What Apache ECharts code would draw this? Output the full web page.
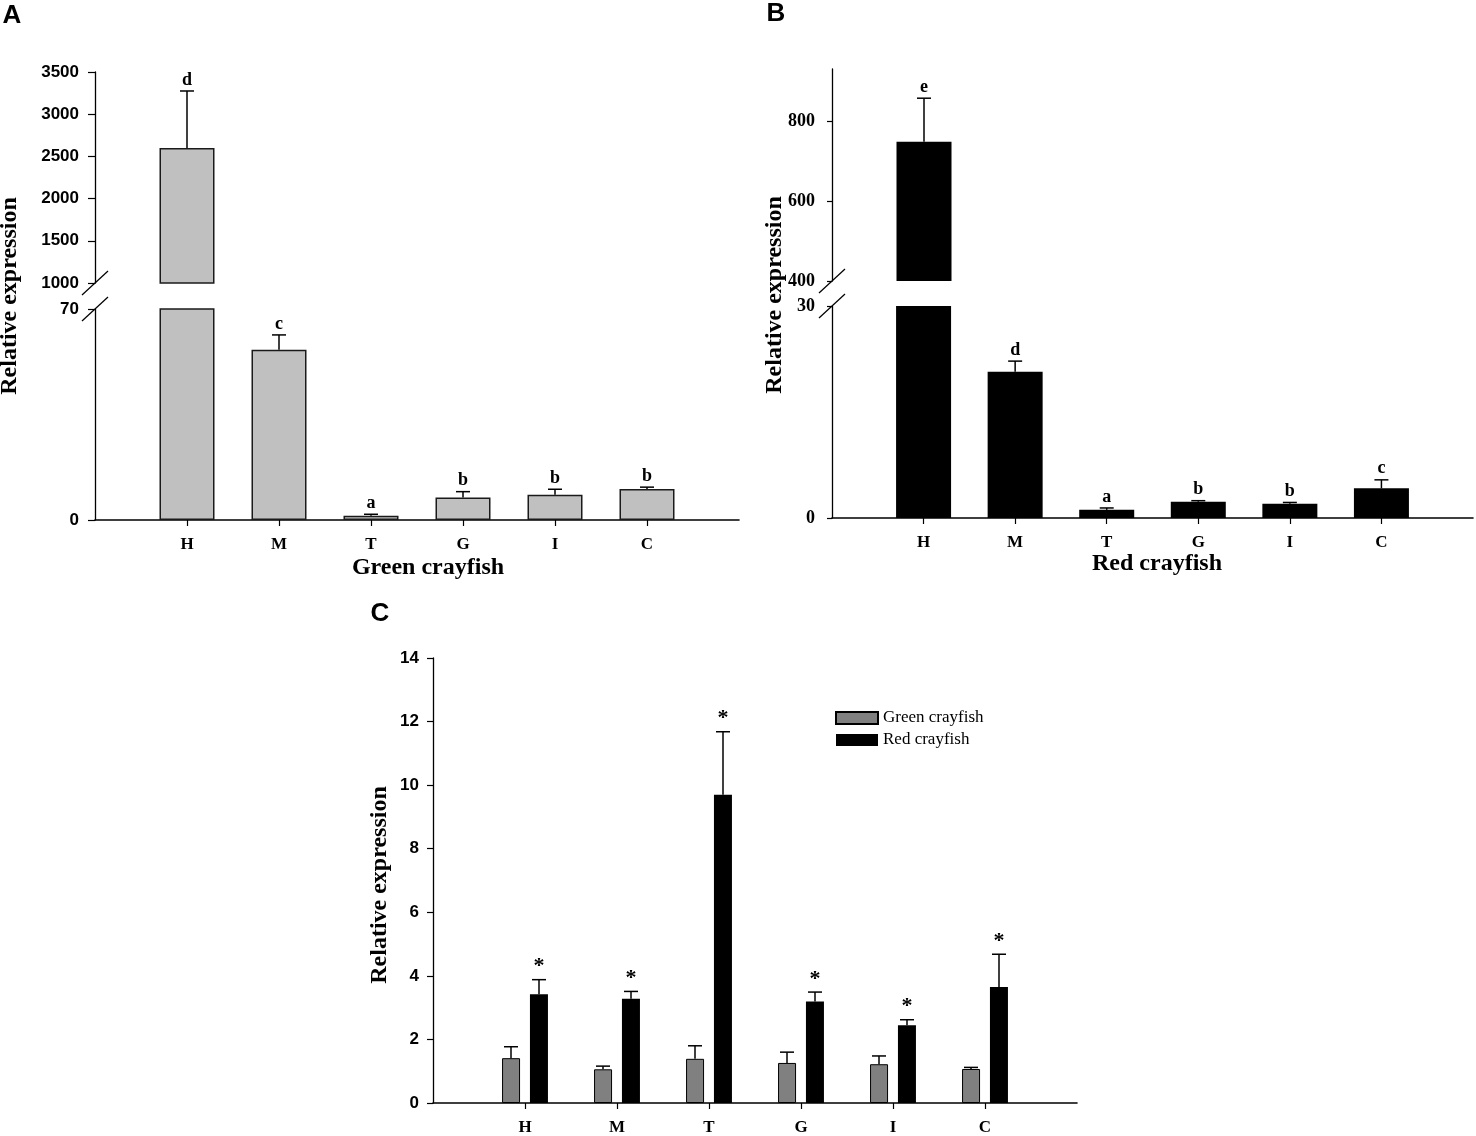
<!DOCTYPE html>
<html>
<head>
<meta charset="utf-8">
<script src="https://cdn.jsdelivr.net/npm/echarts@6/dist/echarts.min.js"></script>
<style>
html, body { margin: 0; padding: 0; background: #fff; }
#main { width: 1476px; height: 1136px; }
</style>
</head>
<body>
<div id="main"></div>
<script>
var tissues = ['H', 'M', 'T', 'G', 'I', 'C'];

// A: green crayfish (mean, top of error bar, letters)
var greenMean = [2600, 56.5, 1.4, 7.5, 8.4, 10.3];
var greenTop = [3275, 61.4, 1.9, 9.4, 10.2, 10.9];
var greenLetters = ['d', 'c', 'a', 'b', 'b', 'b'];

// B: red crayfish
var redMean = [748, 20.7, 1.15, 2.3, 2.0, 4.2];
var redTop = [857, 22.2, 1.42, 2.45, 2.2, 5.4];
var redLetters = ['e', 'd', 'a', 'b', 'b', 'c'];

// C: both, same tissues
var cmpGreenMean = [1.41, 1.06, 1.39, 1.26, 1.22, 1.07];
var cmpGreenTop = [1.77, 1.16, 1.80, 1.60, 1.48, 1.12];
var cmpRedMean = [3.42, 3.28, 9.70, 3.19, 2.45, 3.65];
var cmpRedTop = [3.88, 3.51, 11.68, 3.49, 2.62, 4.68];
var cmpMarks = ['*', '*', '*', '*', '*', '*'];

// tick labels
var aLowTicks = [0, 70];
var aHighTicks = [1000, 1500, 2000, 2500, 3000, 3500];
var bLowTicks = [0, 30];
var bHighTicks = [400, 600, 800];
var cTicks = [0, 2, 4, 6, 8, 10, 12, 14];

var SERIF = '"Liberation Serif", "Times New Roman", serif';
var SANS = '"Liberation Sans", Arial, sans-serif';

var cats = [''].concat(tissues, ['']);

function pad(arr) { return ['-'].concat(arr, ['-']); }

function xAxisFor(grid, show) {
    return {
        type: 'category', gridIndex: grid, data: cats, boundaryGap: false,
        axisLine: { show: show, lineStyle: { color: '#000', width: 1.6 } },
        axisTick: {
            show: show, length: 6,
            interval: function (i) { return i > 0 && i < cats.length - 1; },
            lineStyle: { color: '#000', width: 1.2 }
        },
        axisLabel: {
            show: show, interval: 0, margin: 16, color: '#000',
            fontFamily: SERIF, fontWeight: 'bold', fontSize: 17
        },
        splitLine: { show: false }
    };
}

function yAxisFor(grid, min, max, ticks, font, size, tickLen, margin) {
    return {
        type: 'value', gridIndex: grid, min: min, max: max,
        axisLine: { show: true, lineStyle: { color: '#000', width: 1.3 } },
        axisTick: { show: true, length: tickLen, customValues: ticks, lineStyle: { color: '#000', width: 1.2 } },
        axisLabel: {
            customValues: ticks, margin: margin, color: '#000',
            fontFamily: font, fontWeight: 'bold', fontSize: size,
            formatter: function (v) { return String(v); }
        },
        splitLine: { show: false }
    };
}

function errorSeries(grid, means, tops, marks, lo, hi, offset, markFont) {
    var data = means.map(function (m, i) { return [i + 1, m, tops[i]]; });
    return {
        type: 'custom', xAxisIndex: grid, yAxisIndex: grid, data: data,
        z: 5, silent: true, clip: false,
        encode: { x: 0, y: [1, 2] },
        renderItem: function (params, api) {
            var m = api.value(1), t = api.value(2);
            if (m < lo || m > hi) return null;
            var base = api.coord([api.value(0), m]);
            var top = api.coord([api.value(0), t]);
            var x = base[0] + offset;
            var kids = [
                { type: 'line', shape: { x1: x, y1: base[1], x2: x, y2: top[1] }, style: { stroke: '#000', lineWidth: 1.5 } },
                { type: 'line', shape: { x1: x - 7, y1: top[1], x2: x + 7, y2: top[1] }, style: { stroke: '#000', lineWidth: 1.5 } }
            ];
            var mk = marks[params.dataIndex];
            if (mk) {
                kids.push({
                    type: 'text',
                    style: {
                        text: mk, x: x, y: top[1] - 2, align: 'center', verticalAlign: 'bottom',
                        fontFamily: markFont.family, fontWeight: 'bold', fontSize: markFont.size, fill: '#000'
                    }
                });
            }
            return { type: 'group', children: kids };
        }
    };
}

function slash(cx, cy) {
    return { type: 'line', shape: { x1: cx - 13, y1: cy + 12, x2: cx + 13, y2: cy - 12 }, style: { stroke: '#000', lineWidth: 1.2 } };
}

function label(text, x, y, font, size, rot) {
    return {
        type: 'text', x: x, y: y, rotation: rot || 0,
        style: { text: text, align: 'center', verticalAlign: 'middle', fontFamily: font, fontWeight: 'bold', fontSize: size, fill: '#000' }
    };
}

var letterFont = { family: SERIF, size: 18 };
var starFont = { family: SERIF, size: 22 };

var chart = echarts.init(document.getElementById('main'));
chart.setOption({
    animation: false,
    backgroundColor: '#fff',
    grid: [
        { left: 95, top: 72, width: 644, height: 211 },    // A upper
        { left: 95, top: 309, width: 644, height: 211 },   // A lower
        { left: 832, top: 69, width: 644, height: 212 },   // B upper
        { left: 832, top: 306, width: 644, height: 212 },  // B lower
        { left: 433, top: 658, width: 644, height: 448 }   // C
    ],
    xAxis: [xAxisFor(0, false), xAxisFor(1, true), xAxisFor(2, false), xAxisFor(3, true), xAxisFor(4, true)],
    yAxis: [
        yAxisFor(0, 1000, 3500, aHighTicks, SANS, 17, 7, 16),
        yAxisFor(1, 0, 70, aLowTicks, SANS, 17, 7, 16),
        yAxisFor(2, 400, 930, bHighTicks, SERIF, 18, 5, 17),
        yAxisFor(3, 0, 30, bLowTicks, SERIF, 18, 5, 17),
        yAxisFor(4, 0, 14, cTicks, SANS, 17, 6, 14)
    ],
    legend: {
        data: ['Green crayfish', 'Red crayfish'],
        orient: 'vertical', left: 830, top: 704,
        icon: 'rect', itemWidth: 42, itemHeight: 12, itemGap: 4,
        selectedMode: false,
        textStyle: { fontFamily: SERIF, fontSize: 17, color: '#000', lineHeight: 18 }
    },
    graphic: [
        label('A', 12, 16, SANS, 26),
        label('B', 776, 14, SANS, 26),
        label('C', 380, 614, SANS, 26),
        label('Relative expression', 10, 296, SERIF, 24, Math.PI / 2),
        label('Relative expression', 775, 295, SERIF, 24, Math.PI / 2),
        label('Relative expression', 380, 885, SERIF, 24, Math.PI / 2),
        label('Green crayfish', 428, 568, SERIF, 24),
        label('Red crayfish', 1157, 564, SERIF, 24),
        slash(95, 283), slash(95, 309),
        slash(832, 281), slash(832, 306)
    ],
    series: [
        {
            type: 'bar', xAxisIndex: 0, yAxisIndex: 0, barWidth: 55,
            data: pad(greenMean.map(function (v) { return v > 1000 ? v : '-'; })),
            itemStyle: { color: '#c0c0c0', borderColor: '#1a1a1a', borderWidth: 1.5 }
        },
        {
            type: 'bar', xAxisIndex: 1, yAxisIndex: 1, barWidth: 55,
            data: pad(greenMean),
            itemStyle: { color: '#c0c0c0', borderColor: '#1a1a1a', borderWidth: 1.5 }
        },
        {
            type: 'bar', xAxisIndex: 2, yAxisIndex: 2, barWidth: 55,
            data: pad(redMean.map(function (v) { return v > 400 ? v : '-'; })),
            itemStyle: { color: '#000' }
        },
        {
            type: 'bar', xAxisIndex: 3, yAxisIndex: 3, barWidth: 55,
            data: pad(redMean),
            itemStyle: { color: '#000' }
        },
        {
            name: 'Green crayfish', type: 'bar', xAxisIndex: 4, yAxisIndex: 4,
            barWidth: 18, barGap: '55%',
            data: pad(cmpGreenMean),
            itemStyle: { color: '#808080', borderColor: '#000', borderWidth: 1 }
        },
        {
            name: 'Red crayfish', type: 'bar', xAxisIndex: 4, yAxisIndex: 4,
            barWidth: 18, barGap: '55%',
            data: pad(cmpRedMean),
            itemStyle: { color: '#000' }
        },
        errorSeries(0, greenMean, greenTop, greenLetters, 1000, 3500, 0, letterFont),
        errorSeries(1, greenMean, greenTop, greenLetters, 0, 70, 0, letterFont),
        errorSeries(2, redMean, redTop, redLetters, 400, 930, 0, letterFont),
        errorSeries(3, redMean, redTop, redLetters, 0, 30, 0, letterFont),
        errorSeries(4, cmpGreenMean, cmpGreenTop, [], 0, 14, -14, letterFont),
        errorSeries(4, cmpRedMean, cmpRedTop, cmpMarks, 0, 14, 14, starFont)
    ]
});
</script>
</body>
</html>
